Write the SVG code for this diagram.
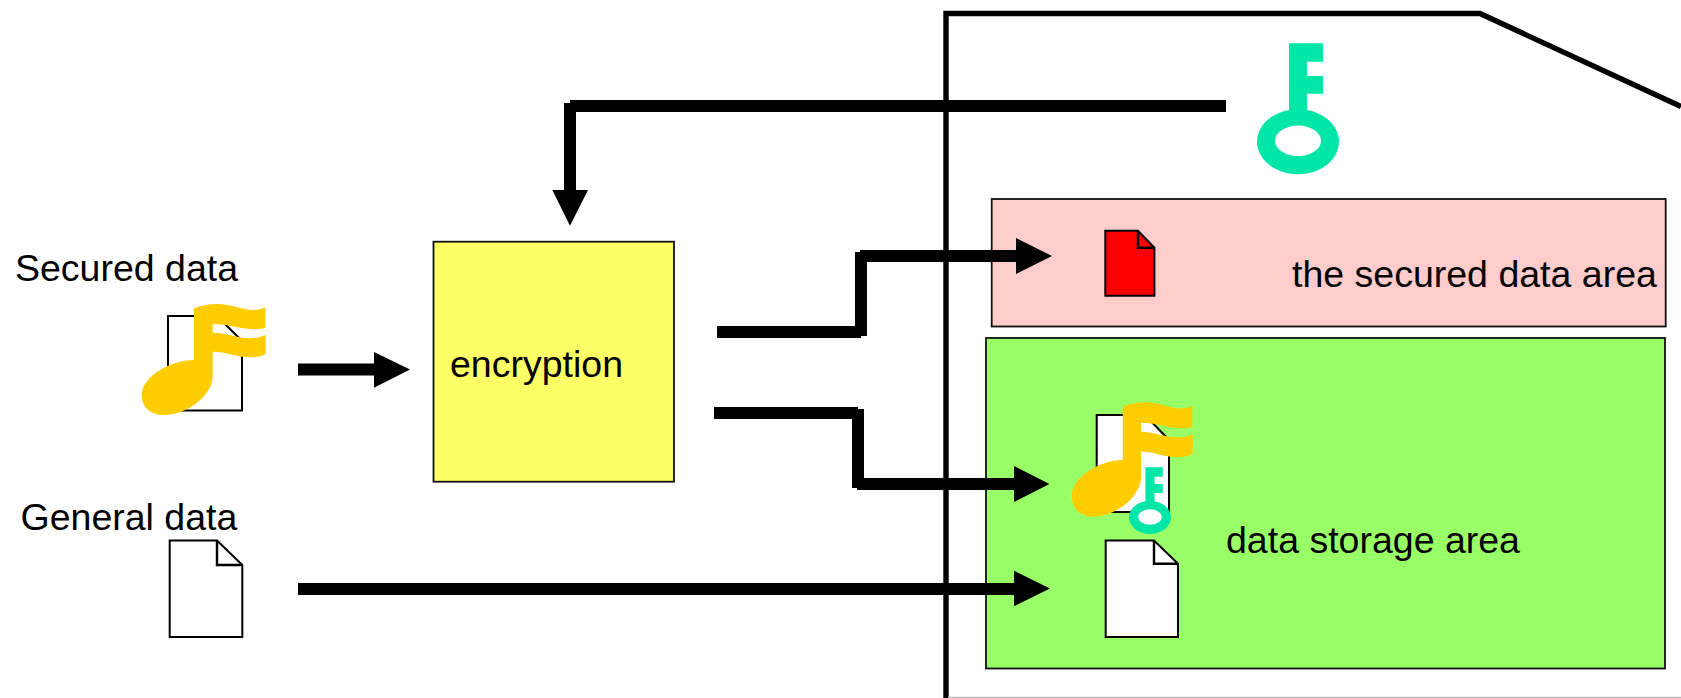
<svg xmlns="http://www.w3.org/2000/svg" xmlns:xlink="http://www.w3.org/1999/xlink" width="1681" height="698" viewBox="0 0 1681 698">
<style>
text{font-family:"Liberation Sans",Arial,sans-serif;font-size:37.5px;fill:#000}
.line{fill:none;stroke:#000;stroke-width:12}
.head{fill:#000}
.outline{fill:none;stroke:#000;stroke-width:5.4}
.area{stroke:#111;stroke-width:1.8}
.doc{stroke:#000;stroke-width:2;fill:#fff}
.docfold{stroke:#000;stroke-width:2.4;fill:none}
.note{fill:#FFCC00}
.key{fill:#00E6A9}
</style>
<defs>
<path id="noteShape" class="note" d="M74,28.3C82,25 90,24 97,24C112,24 122,30 133,30C138,30 142,29 145.3,27.3L145.3,47.7C141,49 136,49.5 130,49C117,48 106,44 92.7,44L92.7,52.7C106,52.7 118,58.3 130,58.3C136,58.3 141,57 145.7,55L145.7,74C141,76.5 136,77.3 130,77.3C116,77.3 106,71.7 92.7,71.7L92.7,96.7C92.7,113 70,135 43.3,135C30,135 21.7,127 21.7,115C21.7,97 50,80 74,80Z"/>
<g id="keyShape">
<ellipse cx="1298" cy="140.8" rx="24" ry="16" fill="#fff"/>
<path fill-rule="evenodd" class="key" d="M1289,43.3H1323V61.7H1307V76H1323V93.7H1307V110A41,32.5 0 1 1 1289,110ZM1321,140.8A23,15.3 0 1 0 1275,140.8A23,15.3 0 1 0 1321,140.8Z"/>
</g>
</defs>
<g id="device">
<path class="outline" d="M946,698V13.5H1480L1681,106.5"/>
<path d="M948,697.4H1681" stroke="#bbb" stroke-width="1.4" fill="none"/>
</g>
<g id="secured-area">
<rect class="area" x="991.7" y="199" width="674" height="127.5" fill="#FFCCCC"/>
<text x="1292" y="287">the secured data area</text>
</g>
<g id="storage-area">
<rect class="area" x="986" y="338" width="679" height="330.5" fill="#99FF66"/>
<text x="1226" y="553">data storage area</text>
</g>
<g id="encryption">
<rect x="433.5" y="241.7" width="240.5" height="240" fill="#FFFF66" stroke="#111" stroke-width="1.8"/>
<text x="450" y="377">encryption</text>
</g>
<g id="connectors">
<path class="line" d="M1226,106H570M570,103V192"/>
<polygon class="head" points="552.3,190 588,190 570,225.7"/>
<path class="line" d="M298,369.5H376"/>
<polygon class="head" points="374,352 374,387.7 410,369.5"/>
<path class="line" d="M717,332H861M861,252V336M860,256H1018"/>
<polygon class="head" points="1016,238 1016,274 1052,256"/>
<path class="line" d="M714,413H858M858,409V488M857,484H1016"/>
<polygon class="head" points="1014,466 1014,502 1049.5,484"/>
<path class="line" d="M298,589H1016"/>
<polygon class="head" points="1014,570.7 1014,606.3 1050,588.5"/>
</g>
<g id="secured-data">
<text x="15" y="280.7">Secured data</text>
<path class="doc" d="M168,316H217L242,341V410.5H168Z"/>
<use xlink:href="#noteShape" href="#noteShape" transform="translate(120,280)"/>
</g>
<g id="general-data">
<text x="20.5" y="530">General data</text>
<path class="doc" d="M169.7,540.5H217L242.3,565V637H169.7Z"/>
<path class="docfold" d="M217,540.5V565H242.3"/>
</g>
<g id="key">
<use xlink:href="#keyShape" href="#keyShape"/>
</g>
<g id="secured-file">
<path class="doc" style="fill:#FF0000" d="M1105.3,230.7H1138L1154.4,247.7V295.7H1105.3Z"/>
<path class="docfold" d="M1138,230.7V247.7H1154.4"/>
</g>
<g id="encrypted-file">
<path class="doc" d="M1096.7,415H1145L1169,440V512H1096.7Z"/>
<use xlink:href="#noteShape" href="#noteShape" transform="translate(1050.55,377.55) scale(0.976,1.03)"/>
<use xlink:href="#keyShape" href="#keyShape" transform="translate(1150,517) scale(0.512,0.51) translate(-1298,-140.8)"/>
</g>
<g id="general-file">
<path class="doc" d="M1105.7,540.5H1154L1178,563.7V637H1105.7Z"/>
<path class="docfold" d="M1154,540.5V563.7H1178"/>
</g>
</svg>
